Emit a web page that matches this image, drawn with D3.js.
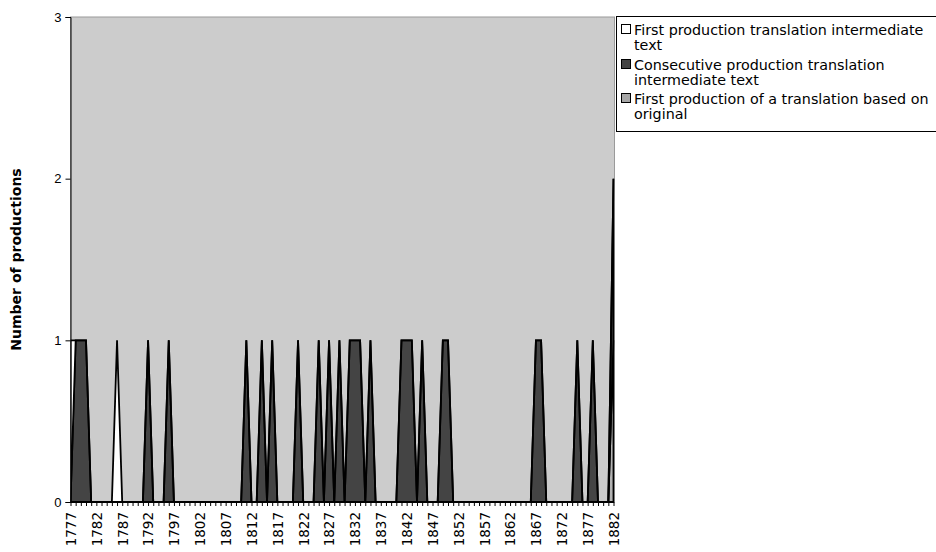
<!DOCTYPE html>
<html>
<head>
<meta charset="utf-8">
<script src="https://cdn.jsdelivr.net/npm/d3@7"></script>
<style>
  html, body { margin: 0; padding: 0; background: #ffffff; }
  svg { display: block; }
</style>
</head>
<body>
<svg id="chart" width="936" height="552"></svg>
<script>
// ---- data ----
const years = [
  1777,1778,1779,1780,1781,1782,1783,1784,1785,1786,
  1787,1788,1789,1790,1791,1792,1793,1794,1795,1796,
  1797,1798,1799,1800,1801,1802,1803,1804,1805,1806,
  1807,1808,1809,1810,1811,1812,1813,1814,1815,1816,
  1817,1818,1819,1820,1821,1822,1823,1824,1825,1826,
  1827,1828,1829,1830,1831,1832,1833,1834,1835,1836,
  1837,1838,1839,1840,1841,1842,1843,1844,1845,1846,
  1847,1848,1849,1850,1851,1852,1853,1854,1855,1856,
  1857,1858,1859,1860,1861,1862,1863,1864,1865,1866,
  1867,1868,1869,1870,1871,1872,1873,1874,1875,1876,
  1877,1878,1879,1880,1881,1882
];
// First production translation intermediate text (white, top of stack)
const firstIntermediate = [
  1,0,0,0,0,0,0,0,0,1,
  0,0,0,0,0,0,0,0,0,0,
  0,0,0,0,0,0,0,0,0,0,
  0,0,0,0,0,0,0,0,0,0,
  0,0,0,0,0,0,0,0,0,0,
  0,0,0,0,0,0,0,0,0,0,
  0,0,0,0,0,0,0,0,0,0,
  0,0,0,0,0,0,0,0,0,0,
  0,0,0,0,0,0,0,0,0,0,
  0,0,0,0,0,0,0,0,0,0,
  0,0,0,0,0,0
];
// Consecutive production translation intermediate text (dark, middle)
const consecutiveIntermediate = [
  0,1,1,1,0,0,0,0,0,0,
  0,0,0,0,0,1,0,0,0,1,
  0,0,0,0,0,0,0,0,0,0,
  0,0,0,0,1,0,0,1,0,1,
  0,0,0,0,1,0,0,0,1,0,
  1,0,1,0,1,1,1,0,1,0,
  0,0,0,0,1,1,1,0,1,0,
  0,0,1,1,0,0,0,0,0,0,
  0,0,0,0,0,0,0,0,0,0,
  1,1,0,0,0,0,0,0,1,0,
  0,1,0,0,0,1
];
// First production of a translation based on original (grey, bottom)
const firstOriginal = [
  0,0,0,0,0,0,0,0,0,0,
  0,0,0,0,0,0,0,0,0,0,
  0,0,0,0,0,0,0,0,0,0,
  0,0,0,0,0,0,0,0,0,0,
  0,0,0,0,0,0,0,0,0,0,
  0,0,0,0,0,0,0,0,0,0,
  0,0,0,0,0,0,0,0,0,0,
  0,0,0,0,0,0,0,0,0,0,
  0,0,0,0,0,0,0,0,0,0,
  0,0,0,0,0,0,0,0,0,0,
  0,0,0,0,0,1
];
const yTicks = [0, 1, 2, 3];
const xLabelYears = [1777,1782,1787,1792,1797,1802,1807,1812,1817,1822,1827,1832,1837,1842,1847,1852,1857,1862,1867,1872,1877,1882];
const seriesNames = [
  "First production translation intermediate text",
  "Consecutive production translation intermediate text",
  "First production of a translation based on original"
];

// ---- layout ----
const svg = d3.select("#chart");
const L = 70.5, R = 613.5, T = 17, B = 502;
const FONT = "'DejaVu Sans', Verdana, sans-serif";

const x = d3.scaleLinear().domain([years[0], years[years.length - 1]]).range([L, R]);
const y = d3.scaleLinear().domain([0, 3]).range([B, T]);

// plot area background
svg.append("rect").attr("x", L).attr("y", T).attr("width", R - L + 1).attr("height", B - T)
  .attr("fill", "#cccccc").attr("stroke", "#9a9a9a").attr("stroke-width", 1);

// stacked data: bottom grey, middle dark, top white
const table = years.map((yr, i) => ({
  year: yr,
  orig: firstOriginal[i],
  cons: consecutiveIntermediate[i],
  first: firstIntermediate[i]
}));
const keys = ["orig", "cons", "first"];
const colors = { orig: "#b3b3b3", cons: "#444444", first: "#ffffff" };
const stacked = d3.stack().keys(keys)(table);

svg.append("clipPath").attr("id", "clip").append("rect")
  .attr("x", L).attr("y", T - 1).attr("width", R - L + 1).attr("height", B - T + 2);

const area = d3.area()
  .x(d => x(d.data.year))
  .y0(d => y(d[0]))
  .y1(d => y(d[1]));

svg.append("g").attr("clip-path", "url(#clip)")
  .selectAll("path").data(stacked).join("path")
  .attr("d", area)
  .attr("fill", d => colors[d.key])
  .attr("stroke", "#000")
  .attr("stroke-width", 1.8)
  .attr("stroke-linejoin", "miter");

// Y axis
const yAxis = d3.axisLeft(y).tickValues(yTicks).tickSize(5).tickPadding(4).tickFormat(d3.format("d"));
const gy = svg.append("g").attr("transform", `translate(${L},0)`).call(yAxis);
gy.select(".domain").attr("stroke", "#000");
gy.selectAll(".tick line").attr("stroke", "#000");
gy.selectAll("text").attr("font-family", "'Liberation Sans', Arial, sans-serif").attr("font-size", 13).attr("fill", "#000");

// X axis: tick at every year, labels every 5 years
const xAxis = d3.axisBottom(x).tickValues(years).tickSize(4).tickSizeOuter(0)
  .tickFormat(d => xLabelYears.includes(d) ? String(d) : "");
const gx = svg.append("g").attr("transform", `translate(0,${B})`).call(xAxis);
gx.select(".domain").attr("stroke", "#000");
gx.selectAll(".tick line").attr("stroke", "#000");
gx.selectAll("text")
  .attr("font-family", FONT).attr("font-size", 13.5).attr("fill", "#000")
  .attr("text-anchor", "end")
  .attr("transform", "translate(0,10) rotate(-90)")
  .attr("x", 0).attr("y", 0).attr("dy", "0.36em");

// Y axis title
svg.append("text")
  .attr("transform", `translate(16,${(T + B) / 2}) rotate(-90)`)
  .attr("text-anchor", "middle")
  .attr("dy", "0.35em")
  .attr("font-family", FONT).attr("font-weight", "bold").attr("font-size", 14)
  .text("Number of productions");

// Legend
const lg = svg.append("g");
lg.append("rect").attr("x", 616.5).attr("y", 16.5).attr("width", 330).attr("height", 115)
  .attr("fill", "#fff").attr("stroke", "#000").attr("stroke-width", 1);
const legendItems = [
  { key: "first", lines: ["First production translation intermediate", "text"], y: 30 },
  { key: "cons", lines: ["Consecutive production translation", "intermediate text"], y: 65 },
  { key: "orig", lines: ["First production of a translation based on", "original"], y: 99 }
];
const legendFill = { first: "#ffffff", cons: "#444444", orig: "#a6a6a6" };
legendItems.forEach((it, k) => {
  lg.append("rect").attr("x", 621.5).attr("y", it.y - 5.5).attr("width", 9).attr("height", 9)
    .attr("fill", legendFill[it.key]).attr("stroke", "#000").attr("stroke-width", 1);
  it.lines.forEach((ln, j) => {
    lg.append("text").attr("x", 634).attr("y", it.y + j * 15).attr("dy", "0.35em")
      .attr("font-family", FONT).attr("font-size", 14.3).attr("fill", "#000")
      .text(ln);
  });
});
</script>
</body>
</html>
